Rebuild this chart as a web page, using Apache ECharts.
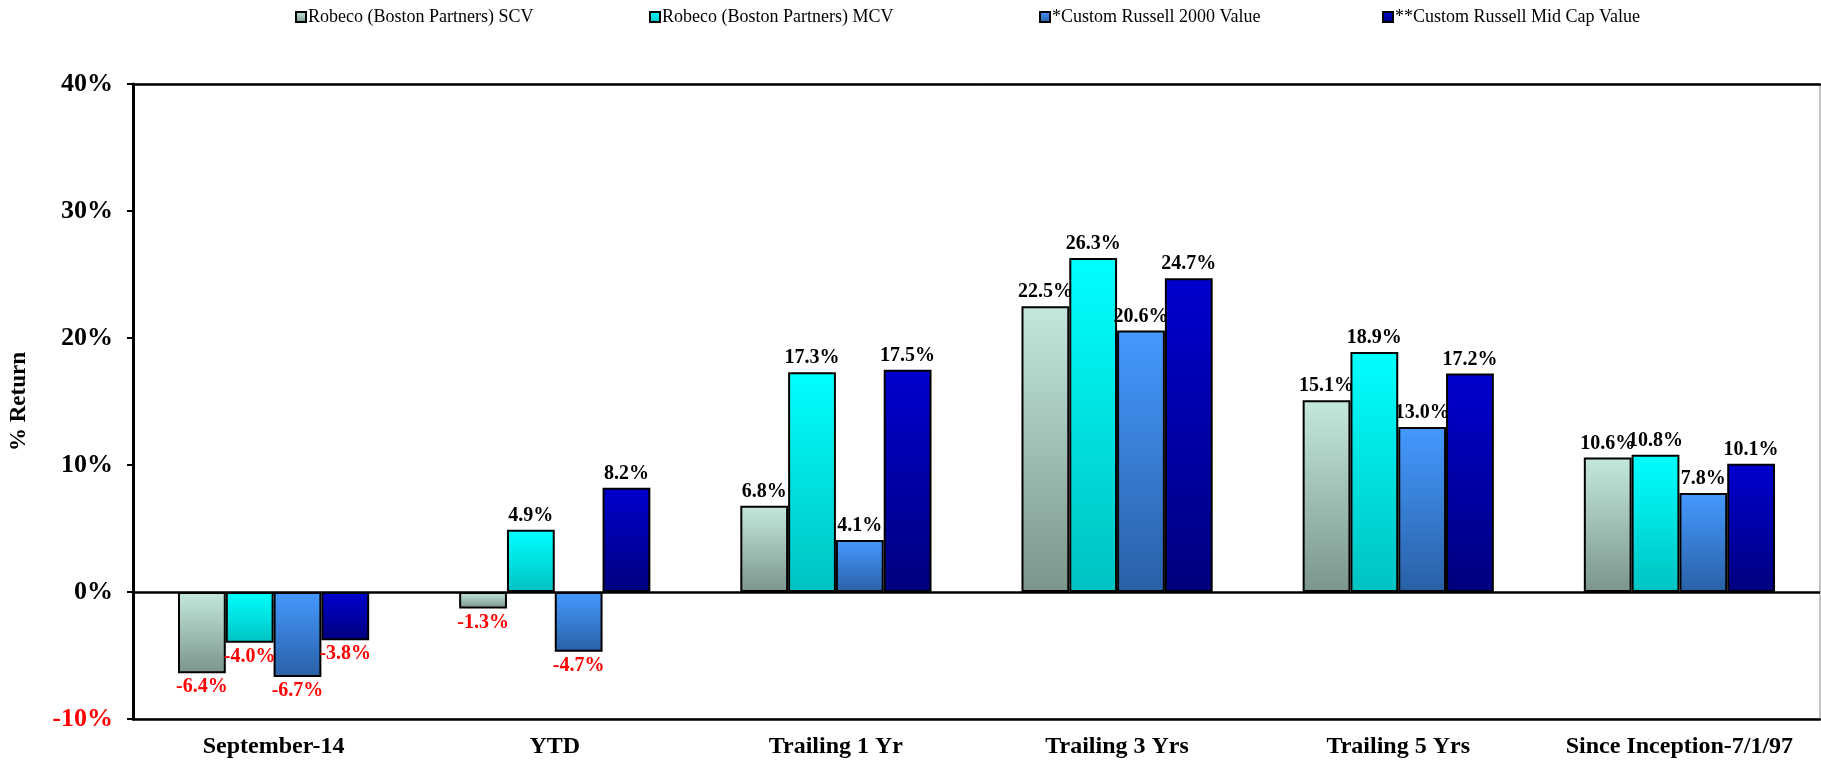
<!DOCTYPE html>
<html>
<head>
<meta charset="utf-8">
<script src="https://cdn.jsdelivr.net/npm/echarts@6/dist/echarts.min.js"></script>
<style>
  html, body { margin: 0; padding: 0; background: #fff; }
  #chart { width: 1821px; height: 761px; }
</style>
</head>
<body>
<div id="chart"></div>
<script>
var categories = ['September-14', 'YTD', 'Trailing 1 Yr', 'Trailing 3 Yrs', 'Trailing 5 Yrs', 'Since Inception-7/1/97'];
var seriesNames = ['Robeco (Boston Partners) SCV', 'Robeco (Boston Partners) MCV', '*Custom Russell 2000 Value', '**Custom Russell Mid Cap Value'];
var scv = [-6.4, -1.3, 6.8, 22.5, 15.1, 10.6];
var mcv = [-4.0, 4.9, 17.3, 26.3, 18.9, 10.8];
var r2000 = [-6.7, -4.7, 4.1, 20.6, 13.0, 7.8];
var midcap = [-3.8, 8.2, 17.5, 24.7, 17.2, 10.1];
var yTicks = [-10, 0, 10, 20, 30, 40];

var fontFamily = "'Liberation Serif', 'Times New Roman', serif";

// top/bottom colour of each series' gradient
var gradients = [
    ['#c4e8dd', '#7b958b'],
    ['#00ffff', '#00c2c2'],
    ['#4599ff', '#2960a6'],
    ['#0000cf', '#00007e']
];
var legendLeft = [290, 644, 1034, 1377];

function make_series(name, values, idx) {
    var data = values.map(function (v) {
        if (v < 0) {
            return { value: v, label: { position: 'bottom', color: '#ff0000' } };
        }
        return v;
    });
    var s = {
        name: name,
        type: 'bar',
        barGap: 0,
        barCategoryGap: '32%',
        data: data,
        itemStyle: {
            borderColor: '#000',
            borderWidth: 2,
            color: {
                type: 'linear', x: 0, y: 0, x2: 0, y2: 1,
                colorStops: [
                    { offset: 0, color: gradients[idx][0] },
                    { offset: 1, color: gradients[idx][1] }
                ]
            }
        },
        label: {
            show: true,
            position: 'top',
            distance: 4,
            color: '#000',
            fontFamily: fontFamily,
            fontWeight: 'bold',
            fontSize: 20,
            formatter: function (p) { return p.value.toFixed(1) + '%'; }
        }
    };
    if (idx === 0) {
        s.markLine = {
            silent: true,
            symbol: 'none',
            label: { show: false },
            lineStyle: { color: '#000', width: 2.5, type: 'solid' },
            data: [{ yAxis: 0 }]
        };
    }
    return s;
}

var chart = echarts.init(document.getElementById('chart'));
var option = {
    animation: false,
    backgroundColor: '#fff',
    legend: seriesNames.map(function (n, i) {
        return {
            data: [n],
            top: 3,
            left: legendLeft[i],
            icon: 'rect',
            itemWidth: 10,
            itemHeight: 10,
            itemGap: 2,
            textStyle: { fontFamily: fontFamily, fontSize: 18, color: '#000', padding: [0, 0, 0, -3] }
        };
    }),
    grid: {
        left: 131,
        right: 1,
        top: 84,
        bottom: 42,
        show: true,
        borderColor: '#888',
        borderWidth: 1
    },
    xAxis: [
        {
            type: 'category',
            data: categories,
            axisLine: { onZero: false, lineStyle: { color: '#000', width: 2.5 } },
            axisTick: { show: false },
            axisLabel: {
                interval: 0,
                margin: 16,
                color: '#000',
                fontFamily: fontFamily,
                fontWeight: 'bold',
                fontSize: 24
            }
        },
        {
            type: 'category',
            position: 'top',
            data: categories,
            z: 5,
            axisLine: { show: true, onZero: false, lineStyle: { color: '#000', width: 2.5 } },
            axisTick: { show: false },
            axisLabel: { show: false }
        }
    ],
    yAxis: {
        type: 'value',
        min: yTicks[0],
        max: yTicks[yTicks.length - 1],
        interval: 10,
        name: '% Return',
        nameLocation: 'middle',
        nameRotate: 90,
        nameGap: 102,
        nameTextStyle: { fontFamily: fontFamily, fontWeight: 'bold', fontSize: 23, color: '#000' },
        axisLine: { show: true, lineStyle: { color: '#000', width: 3 } },
        axisTick: { show: true, length: 6, lineStyle: { color: '#000', width: 2 } },
        splitLine: { show: false },
        axisLabel: {
            margin: 20,
            fontFamily: fontFamily,
            fontWeight: 'bold',
            fontSize: 26,
            formatter: '{value}%',
            color: function (val) { return Number(val) < 0 ? '#ff0000' : '#000'; }
        }
    },
    series: [
        make_series(seriesNames[0], scv, 0),
        make_series(seriesNames[1], mcv, 1),
        make_series(seriesNames[2], r2000, 2),
        make_series(seriesNames[3], midcap, 3)
    ]
};
chart.setOption(option);
</script>
</body>
</html>
